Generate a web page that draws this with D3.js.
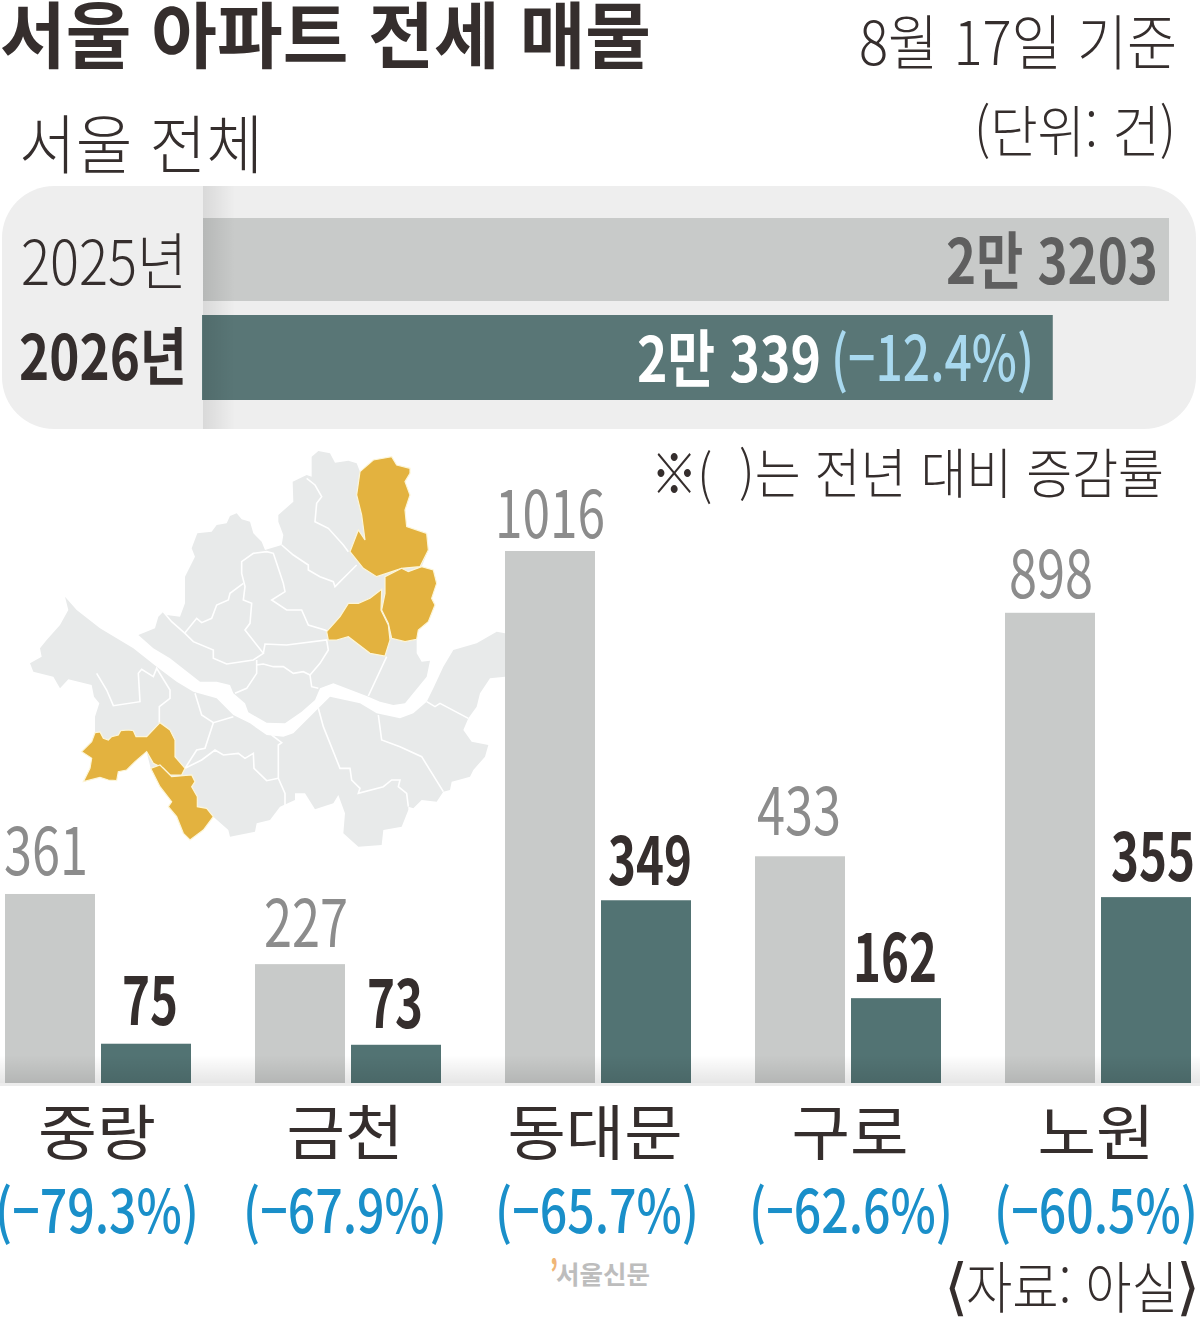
<!DOCTYPE html>
<html lang="ko"><head><meta charset="utf-8">
<script src="https://cdn.jsdelivr.net/npm/d3@7"></script>
<style>html,body{margin:0;padding:0;background:#fff}svg{display:block}text{font-family:"Noto Sans CJK KR","Noto Sans",sans-serif}</style>
</head><body><svg id="c" width="1200" height="1317" viewBox="0 0 1200 1317"></svg>
<script>
// ---- data ----
const districts=["중랑","금천","동대문","구로","노원"];
const values2025=[361,227,1016,433,898];
const values2026=[75,73,349,162,355];
const changes=[-79.3,-67.9,-65.7,-62.6,-60.5];
const totalYears=["2025년","2026년"];
const totalValues=[23203,20339];
const totalChange=-12.4;

// ---- map outlines (in map units) ----
const mapNorth=[[415,585],[465,565],[475,530],[490,515],[500,525],[540,530],[555,490],[555,410],[585,350],[575,325],[592,280],[635,275],[650,255],[680,250],[690,228],[710,220],[725,238],[750,245],[760,280],[785,305],[795,330],[845,315],[850,285],[835,245],[835,225],[880,185],[878,125],[920,105],[935,110],[935,50],[955,33],[990,40],[1005,68],[1045,62],[1070,70],[1080,95],[1120,60],[1175,50],[1190,75],[1230,85],[1230,100],[1215,125],[1230,165],[1215,210],[1220,260],[1280,280],[1285,330],[1265,380],[1300,390],[1310,430],[1295,475],[1305,495],[1285,545],[1255,570],[1250,600],[1250,640],[1265,665],[1290,662],[1280,710],[1215,790],[1180,795],[1140,785],[1100,768],[1000,730],[960,745],[945,780],[905,815],[855,850],[800,848],[745,817],[735,790],[700,760],[690,735],[650,725],[600,725],[510,655],[460,625]];
const mapSouth=[[195,470],[230,510],[300,565],[400,625],[470,680],[530,725],[580,755],[650,775],[700,825],[750,850],[800,885],[850,890],[880,880],[950,810],[990,770],[1080,790],[1130,820],[1200,835],[1240,820],[1280,785],[1300,745],[1330,680],[1360,630],[1430,610],[1490,575],[1515,580],[1515,710],[1470,715],[1440,760],[1430,800],[1405,835],[1390,870],[1415,905],[1465,915],[1455,950],[1420,990],[1410,1010],[1375,1020],[1355,1025],[1350,1050],[1330,1055],[1310,1085],[1265,1080],[1240,1105],[1225,1100],[1225,1110],[1205,1160],[1150,1170],[1145,1215],[1075,1220],[1030,1180],[1035,1120],[1015,1065],[1000,1090],[945,1108],[915,1060],[885,1060],[885,1080],[840,1100],[810,1140],[770,1150],[765,1175],[690,1190],[685,1170],[640,1130],[610,1170],[570,1200],[550,1180],[530,1130],[505,1100],[515,1085],[480,1040],[452,985],[440,935],[405,965],[380,990],[355,995],[350,1022],[325,1020],[300,1012],[250,1025],[270,985],[275,955],[245,935],[275,905],[285,878],[285,830],[298,790],[282,770],[275,735],[205,718],[180,745],[160,710],[100,695],[90,670],[125,650],[120,625],[140,600],[180,555],[205,510]];
const mapBorders=[
[[490,515],[515,545],[555,580],[580,605],[640,630],[640,655],[680,672],[760,660],[790,640],[735,570],[750,550],[755,490],[730,480],[735,440],[725,400],[725,365],[760,340],[800,335],[820,340],[830,370],[850,430],[855,455],[815,480],[860,510],[905,510],[925,555],[975,570],[985,575]],
[[555,578],[590,535],[605,548],[635,535],[650,495],[685,480],[690,460],[730,430]],
[[790,640],[795,612],[860,615],[980,600],[985,630],[960,670],[930,705],[910,695],[880,700],[850,680],[820,680],[790,672],[770,675],[770,700],[740,745],[705,760]],
[[770,660],[770,675]],[[930,705],[935,740],[955,745]],[[1160,650],[1105,768]],
[[845,315],[880,345],[925,375],[925,390],[960,410],[1000,425],[1005,440],[1040,405],[1070,375]],
[[920,115],[945,135],[965,170],[950,190],[945,245],[985,265],[1030,315],[1045,335]],
[[290,700],[320,750],[340,797],[420,785],[415,700],[425,688],[460,710],[470,685],[510,750],[510,775],[478,800],[478,848]],
[[585,760],[605,825],[640,848],[700,830]],[[640,848],[615,925],[590,930],[555,985]],
[[555,985],[605,960],[645,930],[670,945],[715,940],[735,955],[760,940],[762,985],[800,1022],[835,1015]],
[[815,885],[845,908],[835,915],[835,1015],[855,1060],[855,1095]],
[[955,805],[970,860],[1020,985],[1050,985],[1055,1020],[1080,1045],[1075,1060],[1150,1040],[1175,1020],[1200,1020],[1195,1040],[1220,1060],[1225,1100]],
[[1135,825],[1145,900],[1200,920],[1265,950],[1330,1055]],[[1280,785],[1305,800],[1320,790],[1405,835]]];
const mapHighlights=[
[[1080,95],[1120,60],[1175,50],[1190,75],[1230,85],[1230,100],[1215,125],[1230,165],[1215,210],[1220,260],[1280,280],[1285,330],[1260,380],[1205,385],[1130,410],[1090,385],[1050,335],[1075,270],[1095,300],[1085,225],[1070,165]],
[[1155,410],[1205,385],[1225,395],[1265,380],[1300,390],[1310,430],[1295,475],[1305,495],[1285,545],[1255,570],[1250,598],[1215,605],[1175,595],[1165,550],[1145,510],[1155,460]],
[[1145,448],[1110,475],[1075,490],[1045,490],[1020,530],[980,575],[985,600],[1010,600],[1045,590],[1110,640],[1155,648],[1170,600],[1165,555],[1143,510]],
[[285,878],[300,876],[310,895],[325,900],[335,890],[355,885],[362,872],[385,870],[400,872],[408,890],[440,890],[480,848],[510,870],[525,900],[525,950],[555,985],[545,1005],[510,1005],[490,985],[460,970],[440,935],[405,965],[380,990],[355,995],[350,1022],[325,1020],[300,1012],[250,1025],[270,985],[275,955],[245,935],[275,905]],
[[452,985],[480,975],[515,1010],[575,1005],[585,1025],[575,1040],[592,1070],[592,1100],[620,1105],[640,1130],[610,1170],[570,1200],[550,1180],[530,1130],[505,1100],[515,1085],[480,1040]]];

// ---- layout ----
const INK="#352e2d",GREY="#c8cac9",TEAL="#527373",TEALTOP="#597676",BLUE="#1a8fc9";
const svg=d3.select("#c");
const x0=d3.scaleBand().domain(districts).range([-2,1248]);
const y=d3.scaleLinear().domain([0,1016]).range([1083,551]);
const xTotal=d3.scaleLinear().domain([0,23203]).range([203,1169]);
const mapX=d3.scaleLinear().domain([0,1560]).range([0,520]);
const mapY=d3.scaleLinear().domain([0,1260]).range([440,860]);
const ln=d3.line().x(d=>mapX(d[0])).y(d=>mapY(d[1]));
const txt=(s,a,b,base,size,weight,fill)=>svg.append("text").text(s).attr("x",a).attr("y",base)
  .attr("textLength",b-a).attr("lengthAdjust","spacingAndGlyphs")
  .attr("font-size",size).attr("font-weight",weight).attr("fill",fill);

// defs
const defs=svg.append("defs");
const g=defs.append("linearGradient").attr("id","sh");
g.append("stop").attr("offset",0).attr("stop-color","#000").attr("stop-opacity",.09);
g.append("stop").attr("offset",1).attr("stop-color","#000").attr("stop-opacity",0);
const fade=defs.append("linearGradient").attr("id","fade").attr("x1",0).attr("x2",0).attr("y1",0).attr("y2",1);
fade.append("stop").attr("offset",0).attr("stop-color","#000").attr("stop-opacity",0);
fade.append("stop").attr("offset",1).attr("stop-color","#000").attr("stop-opacity",.1);

// headings
txt("서울 아파트 전세 매물",0,651,62,72,700,INK);
txt("8월 17일 기준",859,1177,65,60,300,INK);
txt("(단위: 건)",974,1176,152,56,300,INK);
txt("서울 전체",19,263,168,64,300,INK);

// total panel
svg.append("rect").attr("x",2).attr("y",186).attr("width",1194).attr("height",243).attr("rx",52).attr("fill","#eeeeee");
const barTop=[218,315], barH=[83,85], barX=[203,202], barOver=[0,4];
svg.selectAll(".tb").data(totalYears).join("rect").attr("x",(d,i)=>barX[i]).attr("y",(d,i)=>barTop[i])
  .attr("width",(d,i)=>xTotal(totalValues[i])-xTotal(0)+barOver[i]).attr("height",(d,i)=>barH[i])
  .attr("fill",(d,i)=>i?TEALTOP:GREY);
svg.append("rect").attr("x",203).attr("y",186).attr("width",32).attr("height",243).attr("fill","url(#sh)");
const man=v=>`${Math.floor(v/10000)}만 ${v%10000}`;
txt(totalYears[0],21,187,285,62,300,INK);
txt(totalYears[1],19,187,380,62,700,INK);
txt(man(totalValues[0]),946,1158,284,62,700,"#5f5f5f");
txt(man(totalValues[1]),637,821,382,62,700,"#ffffff");
txt(`(−${Math.abs(totalChange)}%)`,831,1034,381,62,500,"#a9d9ef");
txt("※(",651,712,494,54,300,INK);
txt(")는 전년 대비 증감률",739,1164,494,54,300,INK);

// map
const map=svg.append("g");
map.selectAll(".m").data([mapNorth,mapSouth]).join("path").attr("d",d=>ln(d)+"Z").attr("fill","#e8eaea");
map.selectAll(".b").data(mapBorders).join("path").attr("d",ln).attr("fill","none").attr("stroke","#fff").attr("stroke-width",1.6);
map.selectAll(".h").data(mapHighlights).join("path").attr("d",d=>ln(d)+"Z").attr("fill","#e3b23f").attr("stroke","#fdf6d8").attr("stroke-width",1.2);

// bars
const bw=90;
const gray=d=>x0(d)+7, teal=d=>x0(d)+103;
svg.selectAll(".g").data(districts).join("rect").attr("x",gray).attr("width",bw)
  .attr("y",(d,i)=>y(values2025[i])).attr("height",(d,i)=>y(0)-y(values2025[i])).attr("fill",GREY);
svg.selectAll(".t").data(districts).join("rect").attr("x",teal).attr("width",bw)
  .attr("y",(d,i)=>y(values2026[i])).attr("height",(d,i)=>y(0)-y(values2026[i])).attr("fill",TEAL);
// soft shadow above the baseline
svg.append("rect").attr("x",0).attr("y",1055).attr("width",1200).attr("height",28).attr("fill","url(#fade)");
svg.append("rect").attr("x",0).attr("y",1083).attr("width",1200).attr("height",3).attr("fill","#ececec");

// bar labels
const numW=v=>String(v).length===4?110:String(v).length*28;
const dxG=[-4,6,0,-1,1], dxT=[4,-1,4,-1,7];
const dyG=[-19,-17,-13,-21,-15], dyT=[-19,-17,-15,-16,-16];
districts.forEach((d,i)=>{
  const cg=gray(d)+bw/2+dxG[i], ct=teal(d)+bw/2+dxT[i];
  const a=values2025[i], b=values2026[i];
  txt(String(a),cg-numW(a)/2,cg+numW(a)/2,y(a)+dyG[i],66,400,"#8c8c8c");
  txt(String(b),ct-numW(b)/2,ct+numW(b)/2,y(b)+dyT[i],66,700,INK);
});
// categories
const catW=[118,117,175,117,117], catDx=[-1,-3,-3,2,-2], pctDx=[-1,-3,-1,3,-2];
districts.forEach((d,i)=>{
  const c=x0(d)+100;
  txt(d,c+catDx[i]-catW[i]/2,c+catDx[i]+catW[i]/2,1155,60,400,INK);
  txt(`(−${Math.abs(changes[i])}%)`,c+pctDx[i]-102,c+pctDx[i]+102,1233,60,500,BLUE);
});
// footer
txt("서울신문",556,650,1284,25,700,"#bdbdbd");
txt("’",550,558,1285,34,900,"#f0b676");
txt("자료: 아실",966,1178,1308,56,300,INK);
svg.append("text").text("⟨").attr("x",944).attr("y",1308).attr("font-size",62).attr("font-weight",200).attr("fill",INK).style("font-family","'DejaVu Sans'");
svg.append("text").text("⟩").attr("x",1176).attr("y",1308).attr("font-size",62).attr("font-weight",200).attr("fill",INK).style("font-family","'DejaVu Sans'");
</script></body></html>
